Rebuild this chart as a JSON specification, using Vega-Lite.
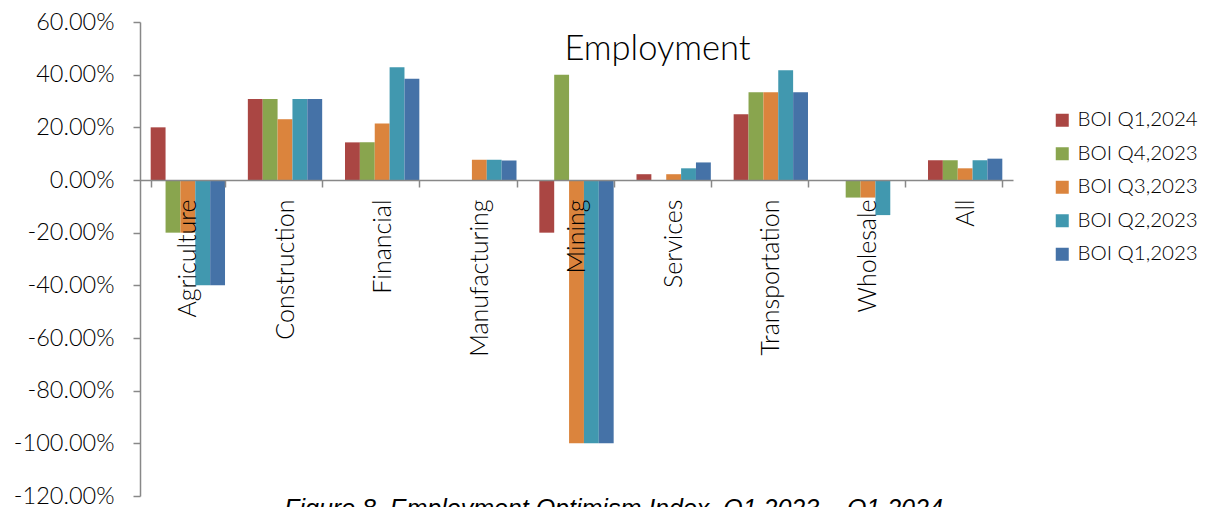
{
  "$schema": "https://vega.github.io/schema/vega-lite/v6.json",
  "width": 873,
  "height": 474,
  "autosize": {"type": "none"},
  "padding": {"left": 140, "top": 22, "right": 196, "bottom": 11},
  "background": "white",
  "config": {"view": {"stroke": null}},
  "title": {"text": "Employment", "font": "Lato", "fontSize": 34.5, "fontWeight": 300, "color": "#000000", "anchor": "middle", "frame": "group", "offset": -57, "dx": 81},
  "data": {"values": [
    {"sector": "Agriculture", "series": "BOI Q1,2024", "v": 20},
    {"sector": "Agriculture", "series": "BOI Q4,2023", "v": -20},
    {"sector": "Agriculture", "series": "BOI Q3,2023", "v": -20},
    {"sector": "Agriculture", "series": "BOI Q2,2023", "v": -40},
    {"sector": "Agriculture", "series": "BOI Q1,2023", "v": -40},
    {"sector": "Construction", "series": "BOI Q1,2024", "v": 30.77},
    {"sector": "Construction", "series": "BOI Q4,2023", "v": 30.77},
    {"sector": "Construction", "series": "BOI Q3,2023", "v": 23.08},
    {"sector": "Construction", "series": "BOI Q2,2023", "v": 30.77},
    {"sector": "Construction", "series": "BOI Q1,2023", "v": 30.77},
    {"sector": "Financial", "series": "BOI Q1,2024", "v": 14.29},
    {"sector": "Financial", "series": "BOI Q4,2023", "v": 14.29},
    {"sector": "Financial", "series": "BOI Q3,2023", "v": 21.43},
    {"sector": "Financial", "series": "BOI Q2,2023", "v": 42.86},
    {"sector": "Financial", "series": "BOI Q1,2023", "v": 38.46},
    {"sector": "Manufacturing", "series": "BOI Q1,2024", "v": 0},
    {"sector": "Manufacturing", "series": "BOI Q4,2023", "v": 0},
    {"sector": "Manufacturing", "series": "BOI Q3,2023", "v": 7.69},
    {"sector": "Manufacturing", "series": "BOI Q2,2023", "v": 7.69},
    {"sector": "Manufacturing", "series": "BOI Q1,2023", "v": 7.41},
    {"sector": "Mining", "series": "BOI Q1,2024", "v": -20},
    {"sector": "Mining", "series": "BOI Q4,2023", "v": 40},
    {"sector": "Mining", "series": "BOI Q3,2023", "v": -100},
    {"sector": "Mining", "series": "BOI Q2,2023", "v": -100},
    {"sector": "Mining", "series": "BOI Q1,2023", "v": -100},
    {"sector": "Services", "series": "BOI Q1,2024", "v": 2.2},
    {"sector": "Services", "series": "BOI Q4,2023", "v": 0},
    {"sector": "Services", "series": "BOI Q3,2023", "v": 2.2},
    {"sector": "Services", "series": "BOI Q2,2023", "v": 4.44},
    {"sector": "Services", "series": "BOI Q1,2023", "v": 6.67},
    {"sector": "Transportation", "series": "BOI Q1,2024", "v": 25},
    {"sector": "Transportation", "series": "BOI Q4,2023", "v": 33.33},
    {"sector": "Transportation", "series": "BOI Q3,2023", "v": 33.33},
    {"sector": "Transportation", "series": "BOI Q2,2023", "v": 41.67},
    {"sector": "Transportation", "series": "BOI Q1,2023", "v": 33.33},
    {"sector": "Wholesale", "series": "BOI Q1,2024", "v": 0},
    {"sector": "Wholesale", "series": "BOI Q4,2023", "v": -6.67},
    {"sector": "Wholesale", "series": "BOI Q3,2023", "v": -6.67},
    {"sector": "Wholesale", "series": "BOI Q2,2023", "v": -13.33},
    {"sector": "Wholesale", "series": "BOI Q1,2023", "v": 0},
    {"sector": "All", "series": "BOI Q1,2024", "v": 7.5},
    {"sector": "All", "series": "BOI Q4,2023", "v": 7.5},
    {"sector": "All", "series": "BOI Q3,2023", "v": 4.44},
    {"sector": "All", "series": "BOI Q2,2023", "v": 7.5},
    {"sector": "All", "series": "BOI Q1,2023", "v": 8.1}
  ]},
  "layer": [
    {
      "mark": {"type": "bar"},
      "encoding": {
        "x": {
          "field": "sector", "type": "nominal", "sort": null,
          "scale": {"paddingInner": 0.235, "paddingOuter": 0.11},
          "axis": {"orient": "bottom", "offset": -316, "zindex": 1, "title": null, "labelAngle": -90, "labelFont": "Lato", "labelFontWeight": 300, "labelFontSize": 25, "labelColor": "#000000", "labelPadding": 12, "labelLimit": 300, "labelOverlap": false, "tickBand": "extent", "tickSize": 7, "domainColor": "#888888", "tickColor": "#888888", "domainWidth": 1.5, "tickWidth": 1.5}
        },
        "xOffset": {"field": "series", "type": "nominal", "sort": ["BOI Q1,2024", "BOI Q4,2023", "BOI Q3,2023", "BOI Q2,2023", "BOI Q1,2023"]},
        "y": {
          "field": "v", "type": "quantitative",
          "scale": {"domain": [-120, 60], "nice": false, "zero": false},
          "axis": {"values": [-120, -100, -80, -60, -40, -20, 0, 20, 40, 60], "labelExpr": "(datum.value < 0 ? '-' : '') + format(abs(datum.value), '.2f') + '%'", "grid": false, "title": null, "labelFont": "Lato", "labelFontWeight": 300, "labelFontSize": 23.5, "labelColor": "#000000", "labelPadding": 19, "tickSize": 7, "domainColor": "#888888", "tickColor": "#888888", "domainWidth": 1.5, "tickWidth": 1.5}
        },
        "color": {
          "field": "series", "type": "nominal",
          "scale": {"domain": ["BOI Q1,2024", "BOI Q4,2023", "BOI Q3,2023", "BOI Q2,2023", "BOI Q1,2023"], "range": ["#AA4643", "#89A54E", "#DB843D", "#4198AF", "#4572A7"]},
          "legend": {"orient": "none", "legendX": 912, "legendY": 88, "title": null, "symbolType": "square", "symbolSize": 169, "symbolStrokeWidth": 0, "symbolOpacity": 1, "labelFont": "Lato", "labelFontWeight": 300, "labelFontSize": 20.5, "labelColor": "#000000", "labelOffset": 5, "rowPadding": 12.5, "padding": 0}
        }
      }
    },
    {
      "mark": {"type": "point", "opacity": 0},
      "encoding": {
        "x": {
          "field": "sector", "type": "nominal", "sort": null,
          "axis": {"orient": "bottom", "labels": false, "ticks": false, "domain": false, "title": "Figure 8. Employment Optimism Index, Q1 2023 – Q1 2024", "titleFont": "Liberation Sans", "titleFontStyle": "italic", "titleFontWeight": "normal", "titleFontSize": 25, "titleColor": "#000000", "titleX": 473, "titleY": 0, "titleAlign": "center", "titleBaseline": "top"}
        }
      }
    }
  ],
  "resolve": {"axis": {"x": "independent"}}
}
